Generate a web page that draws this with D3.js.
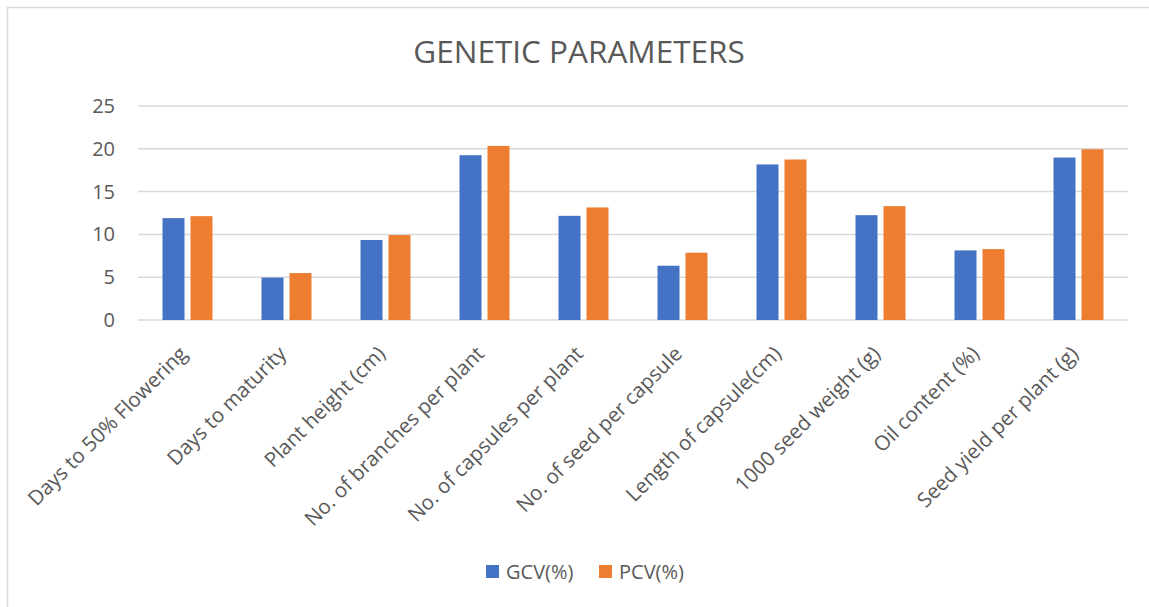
<!DOCTYPE html>
<html>
<head>
<meta charset="utf-8">
<script src="https://cdn.jsdelivr.net/npm/d3@7"></script>
<style>
  body { margin: 0; background: #fff; }
  svg { display: block; font-family: "Open Sans", sans-serif; }
  .grid line { stroke: #d9d9d9; stroke-width: 1.5; }
  .axis text { fill: #595959; }
</style>
</head>
<body>
<svg id="plot"></svg>
<script>
const categories = [
  "Days to 50% Flowering",
  "Days to maturity",
  "Plant height (cm)",
  "No. of branches per plant",
  "No. of capsules per plant",
  "No. of seed per capsule",
  "Length of capsule(cm)",
  "1000 seed weight (g)",
  "Oil content (%)",
  "Seed yield per plant (g)"
];
const gcv = [11.9, 4.95, 9.35, 19.25, 12.17, 6.34, 18.17, 12.25, 8.13, 18.98];
const pcv = [12.13, 5.48, 9.92, 20.34, 13.15, 7.86, 18.75, 13.3, 8.28, 19.95];
const seriesNames = ["GCV(%)", "PCV(%)"];
const colors = ["#4472c4", "#ed7d31"];
const yTicks = [0, 5, 10, 15, 20, 25];

const W = 1149, H = 607;
const margin = { top: 106, right: 21, bottom: 287, left: 138 };
const width = W - margin.left - margin.right;
const height = H - margin.top - margin.bottom;

const root = d3.select("#plot").attr("width", W).attr("height", H);

// chart frame (only top and left edges show in the picture)
root.append("path")
  .attr("d", `M7.5,${H}V7.5H${W}`)
  .attr("fill", "none")
  .attr("stroke", "#d9d9d9")
  .attr("stroke-width", 1.5);

root.append("text")
  .attr("x", 579)
  .attr("y", 63)
  .attr("text-anchor", "middle")
  .attr("fill", "#595959")
  .style("font-size", "31.5px")
  .text("GENETIC PARAMETERS");

const svg = root.append("g").attr("transform", `translate(${margin.left},${margin.top})`);

const x0 = d3.scaleBand().domain(categories).range([0, width]).paddingInner(0.495).paddingOuter(0.2475);
const x1 = d3.scaleBand().domain(seriesNames).range([0, x0.bandwidth()]).paddingInner(0.214);
const y = d3.scaleLinear().domain([0, 25]).range([height, 0]);

// gridlines
svg.append("g")
  .attr("class", "grid")
  .selectAll("line")
  .data(yTicks)
  .join("line")
  .attr("x1", 0)
  .attr("x2", width)
  .attr("y1", d => y(d))
  .attr("y2", d => y(d));

// y axis labels
const yAxis = svg.append("g")
  .attr("class", "axis")
  .call(d3.axisLeft(y).tickValues(yTicks).tickSize(0).tickPadding(23))
  .attr("font-family", null)
  .attr("font-size", null);
yAxis.select(".domain").remove();
yAxis.selectAll("text").style("font-size", "20px");

// bars
const rows = categories.map((c, i) => ({ cat: c, vals: [gcv[i], pcv[i]] }));
const groups = svg.selectAll(".grp")
  .data(rows)
  .join("g")
  .attr("class", "grp")
  .attr("transform", d => `translate(${x0(d.cat)},0)`);

groups.selectAll("rect")
  .data(d => d.vals.map((v, j) => ({ name: seriesNames[j], v, j })))
  .join("rect")
  .attr("x", d => x1(d.name))
  .attr("width", x1.bandwidth())
  .attr("y", d => y(d.v))
  .attr("height", d => height - y(d.v))
  .attr("fill", d => colors[d.j]);

// x axis labels, rotated
const xAxis = svg.append("g")
  .attr("class", "axis")
  .attr("transform", `translate(0,${height})`)
  .call(d3.axisBottom(x0).tickSize(0).tickPadding(0))
  .attr("font-family", null)
  .attr("font-size", null);
xAxis.select(".domain").remove();
xAxis.selectAll("text")
  .style("font-size", "20.5px")
  .attr("text-anchor", "end")
  .attr("dy", null)
  .attr("y", 0)
  .attr("transform", "translate(1,35) rotate(-45)");

// legend
const legend = root.append("g").attr("transform", "translate(486,565)");
const items = legend.selectAll("g")
  .data(seriesNames)
  .join("g")
  .attr("transform", (d, i) => `translate(${i * 113},0)`);
items.append("rect")
  .attr("width", 13)
  .attr("height", 13)
  .attr("fill", (d, i) => colors[i]);
items.append("text")
  .attr("x", 20)
  .attr("y", 13.5)
  .attr("fill", "#595959")
  .style("font-size", "20px")
  .text(d => d);
</script>
</body>
</html>
